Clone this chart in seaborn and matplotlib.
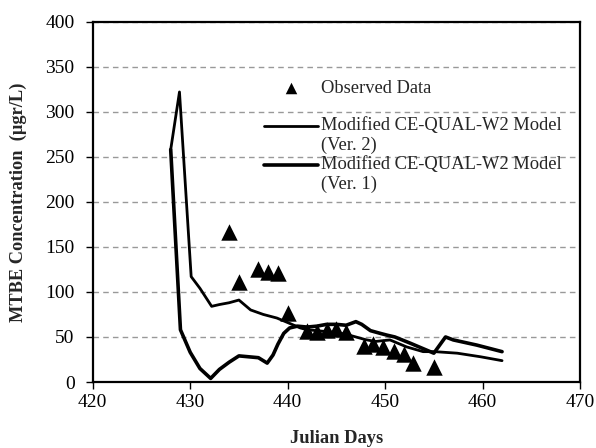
import matplotlib
matplotlib.use("Agg")
import matplotlib.pyplot as plt
from matplotlib.lines import Line2D
from matplotlib.legend_handler import HandlerLine2D
import seaborn as sns
import pandas as pd

# Observed MTBE data
obs_days = [434.0, 435.0, 437.0, 438.0, 439.0, 440.0, 442.0, 443.0, 444.0, 445.0, 446.0,
            447.8, 448.8, 449.8, 450.9, 451.9, 452.9, 455.0]
obs_conc = [166, 111, 126, 122, 121, 77, 57, 55, 58, 59, 55,
            40, 42, 39, 34, 31, 21, 17]

# Modified CE-QUAL-W2 model, version 2
v2_days = [428.0, 428.9, 430.1, 431.0, 432.2, 433.0, 434.0, 435.0, 436.2, 437.5, 438.9,
           440.0, 441.3, 442.0, 443.0, 444.0, 445.0, 446.0, 447.0, 448.0, 449.0, 450.5,
           452.2, 453.9, 455.1, 457.4, 459.8, 462.0]
v2_conc = [258, 322, 117, 104, 84, 86, 88, 91, 80, 75, 71,
           66, 60, 58, 57, 56, 55, 53, 50, 47, 45, 46.7,
           39, 33.7, 33.7, 32, 28, 23.7]

# Modified CE-QUAL-W2 model, version 1
v1_days = [428.0, 429.0, 430.0, 431.0, 432.1, 433.0, 434.0, 435.0, 436.0, 437.0, 437.9,
           438.5, 439.0, 439.6, 440.2, 441.0, 442.0, 443.0, 444.0, 445.0, 446.0, 447.0,
           447.6, 448.5, 449.5, 450.2, 451.0, 452.6, 455.0, 456.2, 457.0, 459.4, 462.0]
v1_conc = [258, 58, 33, 15, 4, 14, 22, 29, 28, 27, 21,
           30, 42, 54, 60, 62, 61, 62, 64, 64, 63, 67,
           64, 57, 54, 52, 50, 43, 32, 50, 46.7, 41, 33.7]

obs = pd.DataFrame({"day": obs_days, "conc": obs_conc})
v2 = pd.DataFrame({"day": v2_days, "conc": v2_conc})
v1 = pd.DataFrame({"day": v1_days, "conc": v1_conc})


class FirstLineHandler(HandlerLine2D):
    # put the legend line next to the first line of a two-line label
    def create_artists(self, legend, orig_handle, xdescent, ydescent, width, height,
                       fontsize, trans):
        artists = super().create_artists(legend, orig_handle, xdescent, ydescent,
                                         width, height, fontsize, trans)
        for a in artists:
            a.set_ydata(a.get_ydata() + 0.5 * fontsize)
        return artists


sns.set_style("white")
plt.rcParams["font.family"] = ["Liberation Serif", "DejaVu Serif"]

fig = plt.figure(figsize=(5.96, 4.48), dpi=100)
ax = fig.add_axes([0.1556, 0.1473, 0.9732 - 0.1556, 0.9516 - 0.1473])

sns.scatterplot(data=obs, x="day", y="conc", marker="^", color="black", s=140,
                edgecolor="black", linewidth=0, ax=ax, label="Observed Data", zorder=4)
sns.lineplot(data=v2, x="day", y="conc", sort=False, estimator=None, color="black",
             linewidth=2.0, ax=ax, label="Modified CE-QUAL-W2 Model\n(Ver. 2)", zorder=3)
sns.lineplot(data=v1, x="day", y="conc", sort=False, estimator=None, color="black",
             linewidth=2.6, ax=ax, label="Modified CE-QUAL-W2 Model\n(Ver. 1)", zorder=3)

ax.set_xlim(420, 470)
ax.set_ylim(0, 400)
ax.set_xticks(range(420, 471, 10))
ax.set_yticks(range(0, 401, 50))
ax.yaxis.grid(True, linestyle=(0, (4, 3)), color="#999999", linewidth=1.0)
ax.set_axisbelow(True)
for sp in ax.spines.values():
    sp.set_color("black")
    sp.set_linewidth(1.6)
ax.tick_params(axis="both", direction="out", length=5, width=1.0, color="black",
               labelsize=14, labelcolor="black", left=True, bottom=True)
ax.tick_params(axis="y", pad=8)
ax.tick_params(axis="x", pad=3.5)

ax.set_xlabel("Julian Days", fontsize=13.3, fontweight="bold", labelpad=14)
ax.set_ylabel("MTBE Concentration  (\u00b5gr/L)", fontsize=13.2, fontweight="bold",
              labelpad=13)

handles, labels = ax.get_legend_handles_labels()
leg1 = ax.legend(handles[:1], labels[:1], loc="upper left",
                 bbox_to_anchor=(264 / 596, 1 - 80 / 448), bbox_transform=fig.transFigure,
                 frameon=False, fontsize=13.3, handlelength=2.9, handletextpad=0.2,
                 borderpad=0, borderaxespad=0, markerscale=0.7)
ax.add_artist(leg1)
ax.legend(handles[1:], labels[1:], loc="upper left",
          bbox_to_anchor=(264 / 596, 1 - 117 / 448), bbox_transform=fig.transFigure,
          frameon=False, fontsize=13.3, handlelength=2.9, handletextpad=0.2,
          labelspacing=0.1, borderpad=0, borderaxespad=0,
          handler_map={Line2D: FirstLineHandler()})

fig.savefig("out.png", dpi=100)
